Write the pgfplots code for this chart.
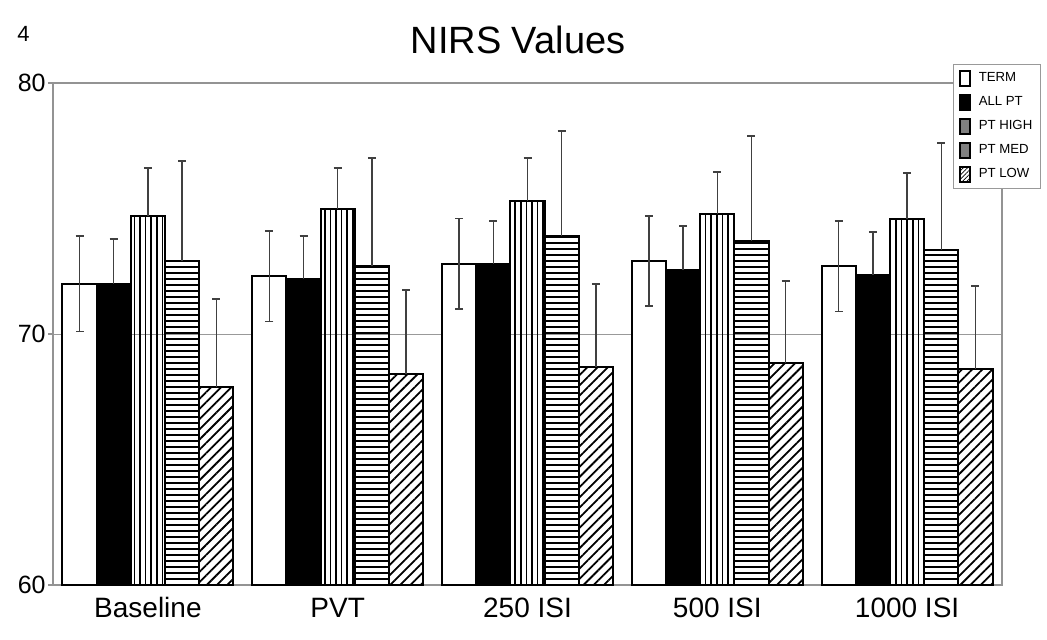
\documentclass[border=0pt]{standalone}
\usepackage{fontspec}
\setmainfont{Liberation Sans}
\usepackage{pgfplots}
\usepackage{pgfplotstable}
\pgfplotsset{compat=1.18}
\usetikzlibrary{patterns.meta}

% group values and upper error (SD)
\pgfplotstableread{
x term termE allpt allptE high highE med medE low lowE
0 72.0 1.9  72.0  1.8  74.7 1.9  72.9  4.0  67.9  3.5
1 72.3 1.8  72.2  1.7  75.0 1.6  72.7  4.3  68.4  3.35
2 72.8 1.8  72.8  1.7  75.3 1.7  73.9  4.2  68.7  3.3
3 72.9 1.8  72.55 1.75 74.8 1.65 73.7  4.2  68.85 3.25
4 72.7 1.8  72.35 1.7  74.6 1.8  73.35 4.25 68.6  3.3
}\nirs

\begin{document}
\begin{tikzpicture}
\useasboundingbox (0,0) rectangle (523.5pt,319.5pt);
\node[anchor=base west, inner sep=0pt, font=\fontsize{11}{11}\selectfont] at (8.5pt,298.5pt) {4};
\node[anchor=base, inner sep=0pt, font=\fontsize{19}{19}\selectfont] at (259pt,293pt) {NIRS Values};
\begin{axis}[
    at={(26.5pt,27pt)}, anchor=south west,
    scale only axis,
    width=474.5pt, height=251pt,
    xmin=-0.5, xmax=4.5,
    ymin=60, ymax=80,
    ytick={60,70,80},
    xtick={0,1,2,3,4},
    xticklabels={Baseline,PVT,250 ISI,500 ISI,1000 ISI},
    ymajorgrids,
    grid style={gray!80, line width=0.5pt},
    axis line style={gray!85, line width=0.8pt},
    tick align=outside, tick pos=left,
    major tick length=2.5pt,
    major x tick style={draw=none},
    major y tick style={gray!85, line width=0.6pt},
    /pgf/number format/assume math mode=true,
    yticklabel style={font=\fontsize{12.5}{12.5}\selectfont, inner sep=1pt},
    xticklabel style={font=\fontsize{14}{14}\selectfont, inner sep=1pt,
        text height=10pt, text depth=0pt, yshift=-2.5pt},
    ybar, bar width=0.18,
    every axis plot/.append style={draw=black, line width=1pt},
    error bars/error bar style={black!75, line width=0.7pt},
    error bars/error mark options={rotate=90, mark size=2pt, line width=0.9pt, black!75},
    legend style={at={(0.948,1.038)}, anchor=north west, draw=gray!80, line width=0.5pt,
        fill=white, font=\fontsize{6.6}{7}\selectfont, inner xsep=3pt, inner ysep=3pt,
        row sep=3.7pt, nodes={inner sep=1pt},
        /tikz/every odd column/.append style={column sep=3pt}},
    legend cell align=left,
]
\addplot[fill=white, bar shift=-0.36,
    error bars/.cd, y dir=both, y explicit,
    /pgfplots/legend image code/.code={\draw[black, line width=0.8pt, fill=white] (0pt,-3.75pt) rectangle (5pt,3.75pt);}]
    table[x=x, y=term, y error=termE] {\nirs};
\addlegendentry{TERM}
\addplot[fill=black, bar shift=-0.18,
    error bars/.cd, y dir=plus, y explicit,
    /pgfplots/legend image code/.code={\draw[black, line width=0.8pt, fill=black] (0pt,-3.75pt) rectangle (5pt,3.75pt);}]
    table[x=x, y=allpt, y error=allptE] {\nirs};
\addlegendentry{ALL PT}
\addplot[pattern={Lines[angle=90, distance=2.8pt, line width=0.8pt]}, bar shift=0,
    error bars/.cd, y dir=plus, y explicit,
    /pgfplots/legend image code/.code={\draw[black, line width=0.8pt, fill=gray] (0pt,-3.75pt) rectangle (5pt,3.75pt);}]
    table[x=x, y=high, y error=highE] {\nirs};
\addlegendentry{PT HIGH}
\addplot[pattern={Lines[angle=0, distance=3pt, line width=0.9pt]}, bar shift=0.18,
    error bars/.cd, y dir=plus, y explicit,
    /pgfplots/legend image code/.code={\draw[black, line width=0.8pt, fill=gray] (0pt,-3.75pt) rectangle (5pt,3.75pt);}]
    table[x=x, y=med, y error=medE] {\nirs};
\addlegendentry{PT MED}
\addplot[pattern={Lines[angle=45, distance=3.6pt, line width=0.9pt]}, bar shift=0.36,
    error bars/.cd, y dir=plus, y explicit,
    /pgfplots/legend image code/.code={\draw[black, line width=0.8pt, pattern={Lines[angle=45, distance=1.5pt, line width=0.4pt]}] (0pt,-3.75pt) rectangle (5pt,3.75pt);}]
    table[x=x, y=low, y error=lowE] {\nirs};
\addlegendentry{PT LOW}
\end{axis}
\end{tikzpicture}
\end{document}
